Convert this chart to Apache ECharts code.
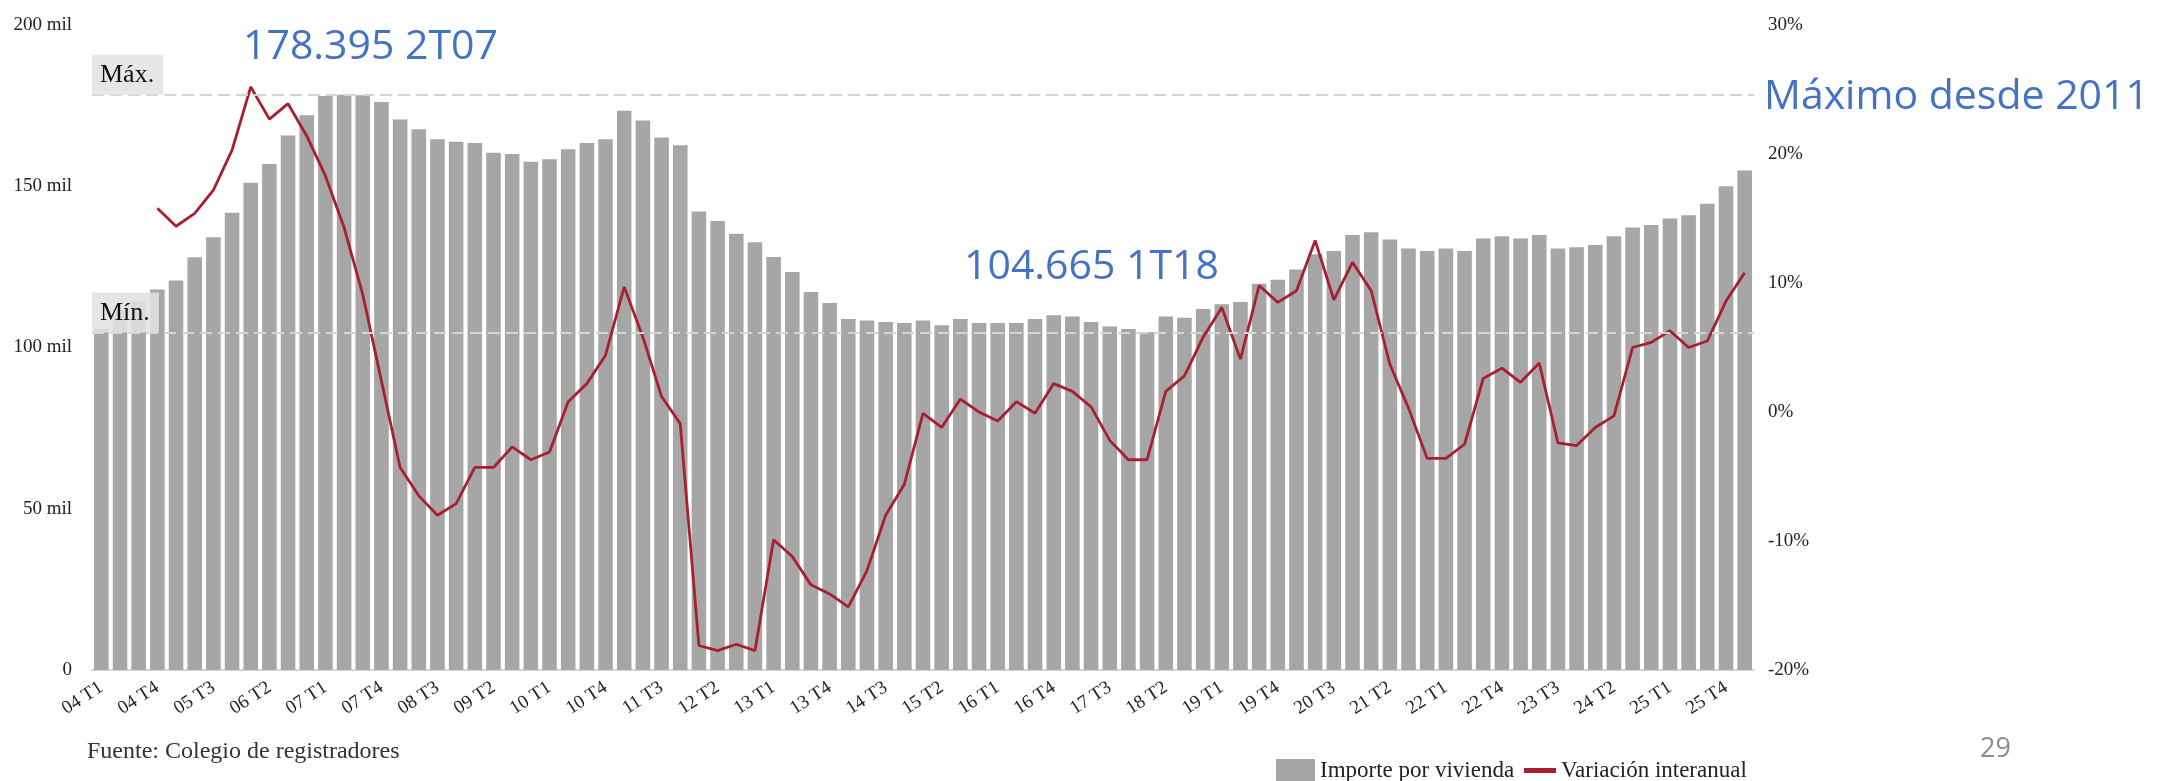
<!DOCTYPE html>
<html>
<head>
<meta charset="utf-8">
<script src="https://cdn.jsdelivr.net/npm/echarts@6/dist/echarts.min.js"></script>
<style>
  html, body { margin: 0; padding: 0; background: #fff; }
  #chart { width: 2162px; height: 781px; }
</style>
</head>
<body>
<div id="chart"></div>
<script>
// trimestres 04 T1 .. 26 T1
var categories = [
  "04 T1","04 T2","04 T3","04 T4","05 T1","05 T2","05 T3","05 T4",
  "06 T1","06 T2","06 T3","06 T4","07 T1","07 T2","07 T3","07 T4",
  "08 T1","08 T2","08 T3","08 T4","09 T1","09 T2","09 T3","09 T4",
  "10 T1","10 T2","10 T3","10 T4","11 T1","11 T2","11 T3","11 T4",
  "12 T1","12 T2","12 T3","12 T4","13 T1","13 T2","13 T3","13 T4",
  "14 T1","14 T2","14 T3","14 T4","15 T1","15 T2","15 T3","15 T4",
  "16 T1","16 T2","16 T3","16 T4","17 T1","17 T2","17 T3","17 T4",
  "18 T1","18 T2","18 T3","18 T4","19 T1","19 T2","19 T3","19 T4",
  "20 T1","20 T2","20 T3","20 T4","21 T1","21 T2","21 T3","21 T4",
  "22 T1","22 T2","22 T3","22 T4","23 T1","23 T2","23 T3","23 T4",
  "24 T1","24 T2","24 T3","24 T4","25 T1","25 T2","25 T3","25 T4",
  "26 T1"
];

// importe por vivienda (miles de euros)
var importe = [
  105.7, 112.0, 114.5, 118.0, 120.8, 128.0, 134.2, 141.8,
  151.1, 156.9, 165.7, 172.0, 178.0, 178.4, 178.2, 176.1,
  170.7, 167.7, 164.6, 163.8, 163.4, 160.4, 160.0, 157.6,
  158.4, 161.5, 163.4, 164.6, 173.4, 170.4, 165.1, 162.7,
  142.2, 139.2, 135.3, 132.6, 128.1, 123.4, 117.2, 113.8,
  108.8, 108.4, 107.9, 107.6, 108.4, 106.9, 108.8, 107.6,
  107.6, 107.6, 108.8, 110.0, 109.6, 107.9, 106.5, 105.7,
  104.7, 109.6, 109.2, 111.9, 113.4, 114.1, 119.8, 121.0,
  124.2, 128.9, 129.9, 134.9, 135.7, 133.5, 130.7, 129.9,
  130.7, 129.9, 133.8, 134.5, 133.8, 134.9, 130.7, 131.1,
  131.8, 134.5, 137.2, 138.0, 140.0, 141.0, 144.6, 150.0,
  154.9
];

// variación interanual (%)
var variacion = [
  null, null, null, 15.8, 14.4, 15.4, 17.2, 20.3,
  25.2, 22.7, 23.9, 21.4, 18.3, 14.3, 9.1, 2.4,
  -4.3, -6.5, -8.0, -7.1, -4.3, -4.3, -2.7, -3.7,
  -3.1, 0.8, 2.2, 4.4, 9.7, 5.8, 1.2, -0.9,
  -18.1, -18.5, -18.0, -18.5, -9.9, -11.2, -13.4, -14.1,
  -15.1, -12.3, -8.0, -5.6, -0.1, -1.2, 1.0, 0.0,
  -0.7, 0.8, -0.1, 2.2, 1.6, 0.4, -2.2, -3.7,
  -3.7, 1.6, 2.8, 5.8, 8.1, 4.1, 9.8, 8.5,
  9.4, 13.3, 8.7, 11.6, 9.4, 3.7, 0.3, -3.6,
  -3.6, -2.5, 2.6, 3.4, 2.3, 3.8, -2.4, -2.6,
  -1.2, -0.3, 5.0, 5.4, 6.3, 5.0, 5.5, 8.6,
  10.8
];

var leftTicks = [0, 50, 100, 150, 200];
var rightTicks = [-20, -10, 0, 10, 20, 30];

var maxImporte = 178.395;
var minImporte = 104.665;

var serif = "Liberation Serif";
var sans = "Open Sans";
var blue = "#4472c4";

var myChart = echarts.init(document.getElementById("chart"));
myChart.setOption({
  animation: false,
  backgroundColor: "#fff",
  grid: {
    left: 92,
    right: 408,
    top: 25,
    bottom: 111
  },
  legend: [
    {
      data: ["Importe por vivienda"],
      left: 1271,
      top: 754,
      icon: "rect",
      itemWidth: 39,
      itemHeight: 23,
      itemGap: 0,
      textStyle: { fontFamily: serif, fontSize: 23, color: "#222" }
    },
    {
      data: ["Variación interanual"],
      left: 1519,
      top: 754,
      icon: "rect",
      itemWidth: 32,
      itemHeight: 5,
      textStyle: { fontFamily: serif, fontSize: 23, color: "#222" }
    }
  ],
  xAxis: {
    type: "category",
    data: categories,
    axisTick: { show: false },
    axisLine: { lineStyle: { color: "#d6d6d6", width: 2 } },
    axisLabel: {
      interval: 2,
      rotate: 33,
      margin: 16,
      fontFamily: serif,
      fontSize: 19,
      color: "#222"
    }
  },
  yAxis: [
    {
      type: "value",
      min: leftTicks[0],
      max: leftTicks[leftTicks.length - 1],
      interval: leftTicks[1] - leftTicks[0],
      splitLine: { show: false },
      axisLine: { show: false },
      axisTick: { show: false },
      axisLabel: {
        margin: 20,
        fontFamily: serif,
        fontSize: 19,
        color: "#222",
        formatter: function (v) {
          return v === 0 ? "0" : v + " mil";
        }
      }
    },
    {
      type: "value",
      min: rightTicks[0],
      max: rightTicks[rightTicks.length - 1],
      interval: rightTicks[1] - rightTicks[0],
      splitLine: { show: false },
      axisLine: { show: false },
      axisTick: { show: false },
      axisLabel: {
        margin: 14,
        fontFamily: serif,
        fontSize: 19,
        color: "#222",
        formatter: "{value}%"
      }
    }
  ],
  series: [
    {
      name: "Importe por vivienda",
      type: "bar",
      data: importe,
      barCategoryGap: "22%",
      itemStyle: { color: "#a6a6a6" },
      markLine: {
        silent: true,
        symbol: "none",
        lineStyle: { color: "#d4d4d4", width: 2, type: [12, 6] },
        label: {
          position: "insideStartTop",
          formatter: "{b}",
          distance: 0,
          fontFamily: serif,
          fontSize: 26,
          color: "#111",
          backgroundColor: "rgba(226,226,226,0.88)",
          padding: [8, 9, 6, 8]
        },
        data: [
          { name: "Máx.", yAxis: maxImporte },
          { name: "Mín.", yAxis: minImporte }
        ]
      }
    },
    {
      name: "Variación interanual",
      type: "line",
      yAxisIndex: 1,
      data: variacion,
      symbol: "none",
      lineStyle: { color: "#a8202f", width: 2.8 },
      itemStyle: { color: "#a8202f" }
    }
  ],
  graphic: [
    {
      type: "text",
      left: 243,
      top: 27,
      style: { text: "178.395 2T07", fontFamily: sans, fontSize: 41, fill: blue }
    },
    {
      type: "text",
      left: 964,
      top: 247,
      style: { text: "104.665 1T18", fontFamily: sans, fontSize: 41, fill: blue }
    },
    {
      type: "text",
      left: 1764,
      top: 77,
      style: { text: "Máximo desde 2011", fontFamily: sans, fontSize: 41, fill: blue }
    },
    {
      type: "text",
      left: 87,
      top: 740,
      style: { text: "Fuente: Colegio de registradores", fontFamily: serif, fontSize: 24, fill: "#333" }
    },
    {
      type: "text",
      left: 1980,
      top: 736,
      style: { text: "29", fontFamily: sans, fontSize: 27, fill: "#8c8c8c" }
    }
  ]
});
</script>
</body>
</html>
